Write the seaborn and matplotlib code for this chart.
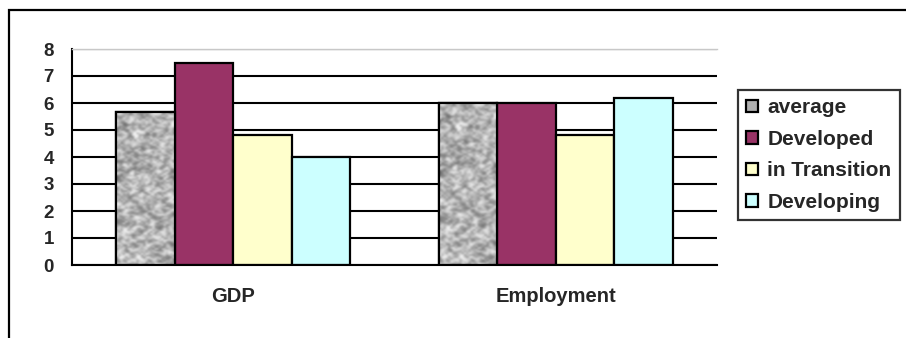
import numpy as np
import pandas as pd
import matplotlib
matplotlib.use("Agg")
import matplotlib.pyplot as plt
from matplotlib.patches import Patch, Rectangle
import seaborn as sns

# Chart data
indicators = ["GDP", "Employment"]
groups = ["average", "Developed", "in Transition", "Developing"]
avg_vals = [5.65, 6.0]
developed_vals = [7.5, 6.0]
transition_vals = [4.8, 4.8]
developing_vals = [4.0, 6.2]
y_ticks = [0, 1, 2, 3, 4, 5, 6, 7, 8]

colors = {"average": "#b0b0b0", "Developed": "#993366",
          "in Transition": "#ffffcc", "Developing": "#ccffff"}

rows = []
for g, vals in zip(groups, [avg_vals, developed_vals, transition_vals, developing_vals]):
    for ind, v in zip(indicators, vals):
        rows.append({"indicator": ind, "group": g, "value": v})
df = pd.DataFrame(rows)

sns.set_style("white")
plt.rcParams["font.family"] = ["Liberation Sans", "DejaVu Sans"]
plt.rcParams["font.weight"] = "bold"

W, H = 906, 338
fig = plt.figure(figsize=(W / 100, H / 100), dpi=100)
ax = fig.add_axes([72 / W, 1 - 265 / H, (717 - 72) / W, (265 - 49) / H])

sns.barplot(data=df, x="indicator", y="value", hue="group", order=indicators,
            hue_order=groups, palette=colors, saturation=1, width=0.726,
            edgecolor="black", linewidth=1.6, legend=False, ax=ax, zorder=3)

# granite-like texture for the "average" bars
rng = np.random.default_rng(7)
ny, nx = 90, 26
noise = rng.random((ny, nx))
pad = np.pad(noise, 1, mode="wrap")
smooth = sum(pad[i:i + ny, j:j + nx] for i in range(3) for j in range(3)) / 9.0
smooth = 0.6 * smooth + 0.4 * noise
smooth = (smooth - smooth.min()) / (smooth.max() - smooth.min())
for bar in ax.containers[0]:
    x0, y0 = bar.get_x(), bar.get_y()
    w, h = bar.get_width(), bar.get_height()
    im = ax.imshow(smooth, cmap="gray", vmin=-0.7, vmax=1.0, aspect="auto",
                   extent=(x0, x0 + w, y0, y0 + h), zorder=3.5, interpolation="bicubic")
    im.set_clip_path(bar)
    edge = Rectangle((x0, y0), w, h, fill=False, edgecolor="black", linewidth=1.6, zorder=4)
    ax.add_patch(edge)

ax.set_xlim(-0.5, 1.5)
ax.set_ylim(0, 8)
ax.set_yticks(y_ticks)
ax.set_yticklabels([str(t) for t in y_ticks], fontsize=13.5, fontweight="bold")
ax.set_xticks([0, 1])
ax.set_xticklabels(indicators, fontsize=14.5, fontweight="bold")
ax.set_xticks([-0.5, 0.5, 1.5], minor=True)
ax.tick_params(axis="x", which="major", length=0, pad=16)
ax.tick_params(axis="x", which="minor", length=8, width=1.5, color="black", direction="out")
ax.tick_params(axis="y", length=7, width=1.5, color="black", direction="out", pad=6)
ax.set_xlabel("")
ax.set_ylabel("")

ax.set_axisbelow(True)
ax.yaxis.grid(True, color="black", linewidth=1.5)
ax.get_ygridlines()[-1].set_color("#c8c8c8")
ax.get_ygridlines()[-1].set_linewidth(1.0)

ax.spines["right"].set_visible(False)
ax.spines["top"].set_color("#c8c8c8")
ax.spines["top"].set_linewidth(1.0)
ax.spines["left"].set_color("black")
ax.spines["left"].set_linewidth(1.5)
ax.spines["bottom"].set_color("black")
ax.spines["bottom"].set_linewidth(1.5)
ax.spines["bottom"].set_zorder(5)

handles = [Patch(facecolor=colors[g], edgecolor="black", linewidth=1.6, label=g) for g in groups]
leg = fig.legend(handles=handles, loc="upper left", bbox_to_anchor=(738 / W, 1 - 90 / H),
                 bbox_transform=fig.transFigure, frameon=True, fancybox=False,
                 prop={"weight": "bold", "size": 15}, handlelength=0.55, handleheight=0.55,
                 handletextpad=0.45, labelspacing=0.6, borderpad=0.4, borderaxespad=0)
leg.get_frame().set_edgecolor("black")
leg.get_frame().set_linewidth(1.6)

# outer chart frame (top and left edges)
fig.add_artist(Rectangle((9 / W, -0.1), 1.2, 1 - 10 / H + 0.1, transform=fig.transFigure,
                         fill=False, edgecolor="black", linewidth=1.6))

fig.savefig("out.png", dpi=100)
